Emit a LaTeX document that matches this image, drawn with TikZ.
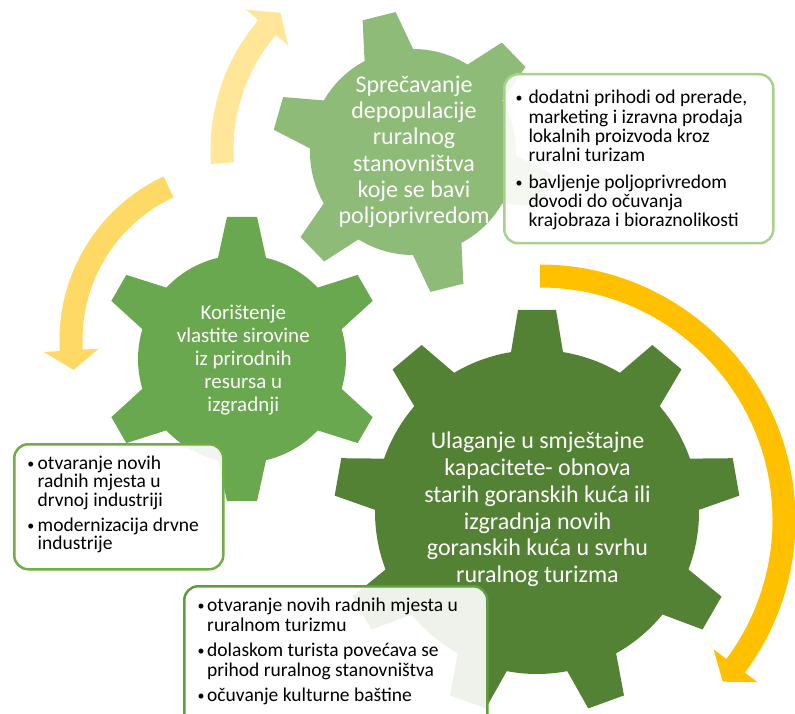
\documentclass[tikz,border=0pt]{standalone}
\usepackage{fontspec}
\setmainfont{Carlito}
\definecolor{gsmall}{HTML}{8FBB78}
\definecolor{gmid}{HTML}{6AA84F}
\definecolor{gbig}{HTML}{548235}
\definecolor{arA}{HTML}{FFE699}
\definecolor{arB}{HTML}{FFD966}
\definecolor{arC}{HTML}{FFC000}
\definecolor{bdA}{HTML}{A9D18E}
\definecolor{bdB}{HTML}{70AD47}
\definecolor{bdC}{HTML}{5F9E3F}
% gear: cx, cy, N, a0, Rt, Rr, wt, wb, color
\newcommand\mygear[9]{%
  \pgfmathsetmacro\gBb{asin(#8/#6)}%
  \pgfmathsetmacro\gBt{asin(#7/#5)}%
  \pgfmathsetmacro\gStep{360/#3}%
  \fill[#9, shift={(#1,#2)}] ({#4+\gBb}:#6pt)
    \foreach \k in {1,...,#3}{
      arc[start angle={#4+(\k-1)*\gStep+\gBb}, end angle={#4+\k*\gStep-\gBb}, radius=#6pt]
      -- ({#4+\k*\gStep-\gBt}:#5pt) -- ({#4+\k*\gStep+\gBt}:#5pt) -- ({#4+\k*\gStep+\gBb}:#6pt)
    } -- cycle;
}
% arrow: cx, cy, R, start angle, head base angle, tip angle, color
\newcommand\myarrow[7]{%
  \pgfmathsetmacro\aRi{#3-11.5}%
  \pgfmathsetmacro\aRo{#3+11.5}%
  \pgfmathsetmacro\aHi{#3-27.5}%
  \pgfmathsetmacro\aHo{#3+27.5}%
  \fill[#7, shift={(#1,#2)}] (#4:\aRi pt) arc[start angle=#4, end angle=#5, radius=\aRi pt]
    -- (#5:\aHi pt) -- (#6:#3pt) -- (#5:\aHo pt) -- (#5:\aRo pt)
    arc[start angle=#5, end angle=#4, radius=\aRo pt] -- cycle;
}
\newcommand\bul[2]{\par\noindent\hangindent=#1\hangafter=1\makebox[#1][l]{\makebox[0pt][c]{\raisebox{1.2pt}{\fontsize{14pt}{14pt}\selectfont•}}}#2\par}
\tikzset{
  callout/.style={draw, line width=2.5pt, rounded corners=14pt, fill=white, fill opacity=0.9, inner sep=0pt, anchor=north west},
  gtext/.style={text=white, inner sep=0pt, anchor=base},
  btext/.style={text=black, inner sep=0pt, anchor=base west}
}
\begin{document}
\begin{tikzpicture}[x=1pt,y=1pt]
\useasboundingbox (0,0) rectangle (795,713);
\clip (0,0) rectangle (795,713);
% circular arrows
\myarrow{411}{563}{189}{184}{139.6}{133.5}{arA}
\myarrow{240}{373}{169}{115}{183.5}{190.2}{arB}
\myarrow{540}{193}{244}{90}{-36.7}{-41.5}{arC}
% gears
\mygear{242}{354}{6}{90}{143}{104}{15}{24}{gmid}
\mygear{413}{561}{6}{104}{141}{103}{17}{25}{gsmall}
\mygear{537}{201}{9}{90}{203}{162}{19}{26}{gbig}
% gear texts
\node[gtext] (tS) at (414,620.7) {\parbox[t]{200pt}{\centering\lineskiplimit=-50pt\fontsize{24pt}{26.3pt}\selectfont
Sprečavanje\\depopulacije\\ruralnog\\stanovništva\\koje se bavi\\poljoprivredom}};
\node[gtext] (tM) at (243.3,393.1) {\parbox[t]{200pt}{\centering\lineskiplimit=-50pt\fontsize{21pt}{22.9pt}\selectfont
Korištenje\\vlastite sirovine\\iz prirodnih\\resursa u\\izgradnji}};
\node[gtext] (tB) at (537.5,264.1) {\parbox[t]{300pt}{\centering\lineskiplimit=-50pt\fontsize{24pt}{26.7pt}\selectfont
Ulaganje u smještajne\\kapacitete- obnova\\starih goranskih kuća ili\\izgradnja novih\\goranskih kuća u svrhu\\ruralnog turizma}};
% callout boxes
\node[callout, draw=bdA, minimum width=269pt, minimum height=169pt] (boxR) at (503,640) {};
\node[callout, draw=bdB, minimum width=209pt, minimum height=125pt] (boxL) at (13,270) {};
\node[callout, draw=bdC, minimum width=303pt, minimum height=150pt] (boxB) at (183,128) {};
% callout texts
\node[btext] (txR) at (519,609.2) {\parbox[t]{260pt}{\lineskiplimit=-50pt\fontsize{19.5pt}{19.3pt}\selectfont
\bul{9.3pt}{dodatni prihodi od prerade,\\marketing i izravna prodaja\\lokalnih proizvoda kroz\\ruralni turizam}
\vspace{7.4pt}
\bul{9.3pt}{bavljenje poljoprivredom\\dovodi do očuvanja\\krajobraza i bioraznolikosti}}};
\node[btext] (txL) at (30.7,243.5) {\parbox[t]{200pt}{\lineskiplimit=-50pt\fontsize{19.5pt}{18.4pt}\selectfont
\bul{6.8pt}{otvaranje novih\\radnih mjesta u\\drvnoj industriji}
\vspace{6.8pt}
\bul{6.8pt}{modernizacija drvne\\industrije}}};
\node[btext] (txB) at (201,101.8) {\parbox[t]{290pt}{\lineskiplimit=-50pt\fontsize{19.5pt}{20pt}\selectfont
\bul{6pt}{otvaranje novih radnih mjesta u\\ruralnom turizmu}
\vspace{5pt}
\bul{6pt}{dolaskom turista povećava se\\prihod ruralnog stanovništva}
\vspace{5pt}
\bul{6pt}{očuvanje kulturne baštine}}};
\end{tikzpicture}
\end{document}
